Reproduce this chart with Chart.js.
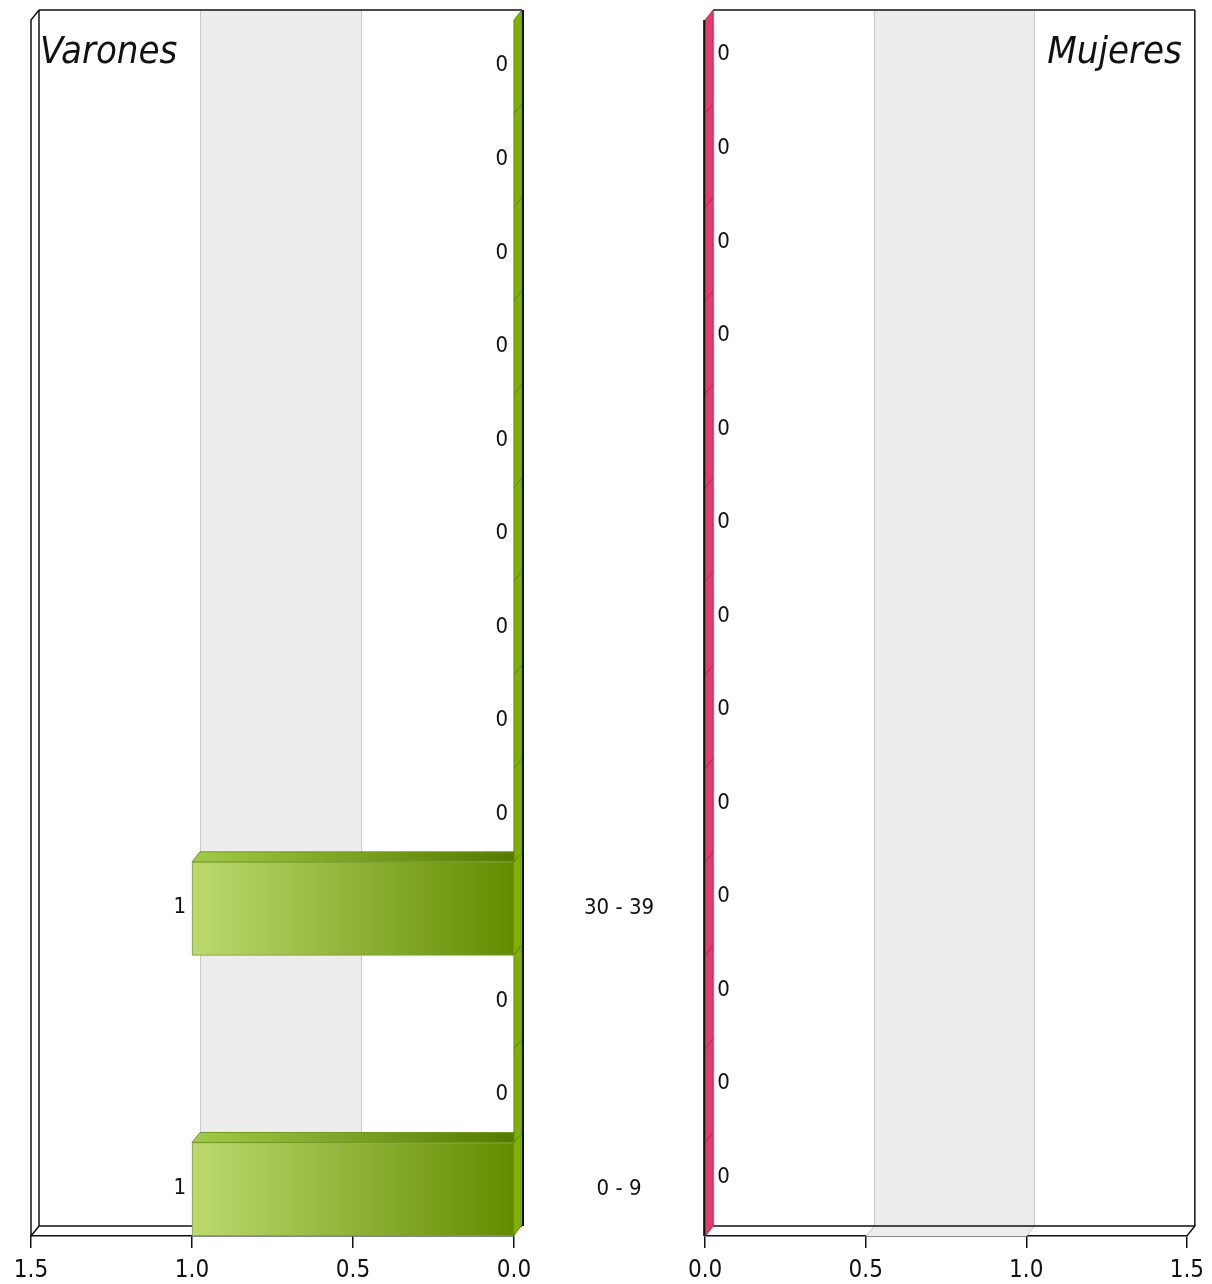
<!DOCTYPE html>
<html>
<head>
<meta charset="utf-8">
<script src="https://cdn.jsdelivr.net/npm/chart.js@4.4.1/dist/chart.umd.min.js"></script>
<style>
  html, body { margin: 0; padding: 0; background: #fff; }
  #wrap { position: relative; width: 1212px; height: 1284px; overflow: hidden; }
  canvas { position: absolute; top: 0; }
  #left { left: 0; }
  #right { left: 680px; }
</style>
</head>
<body>
<div id="wrap">
  <canvas id="left" width="726" height="1284"></canvas>
  <canvas id="right" width="532" height="1284"></canvas>
</div>
<script>
// Age groups, bottom to top
var categories = ["0 - 9", "", "", "30 - 39", "", "", "", "", "", "", "", "", ""];
var varones = [1, 0, 0, 1, 0, 0, 0, 0, 0, 0, 0, 0, 0];
var mujeres = [0, 0, 0, 0, 0, 0, 0, 0, 0, 0, 0, 0, 0];
var axisMax = 1.5;
var axisStep = 0.5;

var FONT = '"DejaVu Sans Condensed", "DejaVu Sans", sans-serif';
var DX = 8, DY = 10;

function line(ctx, pts) {
    ctx.beginPath();
    ctx.moveTo(pts[0][0], pts[0][1]);
    for (var i = 1; i < pts.length; i++) ctx.lineTo(pts[i][0], pts[i][1]);
    ctx.stroke();
}

function poly(ctx, pts) {
    ctx.beginPath();
    ctx.moveTo(pts[0][0], pts[0][1]);
    for (var i = 1; i < pts.length; i++) ctx.lineTo(pts[i][0], pts[i][1]);
    ctx.closePath();
}

// 3D box, faces and value labels
function box3d(side, title, colors) {
    return {
        id: 'box3d',
        beforeDatasetsDraw: function(chart) {
            var ctx = chart.ctx, a = chart.chartArea, x = chart.scales.x;
            var l = a.left, r = a.right, t = a.top, b = a.bottom;
            ctx.save();
            // shaded band 0.5 - 1.0
            var p1 = x.getPixelForValue(0.5), p2 = x.getPixelForValue(1.0);
            var xa = Math.min(p1, p2), xb = Math.max(p1, p2);
            ctx.fillStyle = '#ededed';
            ctx.fillRect(xa + DX, t - DY, xb - xa, b - t);
            poly(ctx, [[xa, b], [xb, b], [xb + DX, b - DY], [xa + DX, b - DY]]);
            ctx.fill();
            // grid lines on back wall and floor
            ctx.strokeStyle = '#c8c8c8';
            ctx.lineWidth = 1;
            x.ticks.forEach(function(tk) {
                if (tk.value <= 0 || tk.value >= axisMax) return;
                var px = Math.round(x.getPixelForValue(tk.value)) + 0.5;
                line(ctx, [[px + DX, t - DY], [px + DX, b - DY], [px, b]]);
            });
            // frame
            ctx.strokeStyle = '#111';
            ctx.lineWidth = 1.5;
            line(ctx, [[l + DX, t - DY], [r + DX, t - DY]]);
            line(ctx, [[l + DX, b - DY], [r + DX, b - DY]]);
            if (side === 'left') {
                line(ctx, [[l + DX, t - DY], [l + DX, b - DY]]);
                line(ctx, [[l + DX, t - DY], [l, t], [l, b], [l + DX, b - DY]]);
            } else {
                line(ctx, [[r + DX, t - DY], [r + DX, b - DY], [r, b]]);
            }
            ctx.restore();
        },
        afterDatasetsDraw: function(chart) {
            var ctx = chart.ctx, a = chart.chartArea;
            var meta = chart.getDatasetMeta(0);
            var data = chart.data.datasets[0].data;
            ctx.save();
            meta.data.forEach(function(el) {
                var p = el.getProps(['x', 'y', 'base', 'height'], true);
                var lo = Math.min(p.x, p.base), hi = Math.max(p.x, p.base);
                var top = p.y - p.height / 2, bot = p.y + p.height / 2;
                if (hi - lo > 0.5) {
                    var g = ctx.createLinearGradient(p.x, 0, p.base, 0);
                    g.addColorStop(0, colors.topLight);
                    g.addColorStop(1, colors.topDark);
                    ctx.fillStyle = g;
                    poly(ctx, [[lo, top], [hi, top], [hi + DX, top - DY], [lo + DX, top - DY]]);
                    ctx.fill();
                    ctx.strokeStyle = colors.edge;
                    ctx.lineWidth = 1;
                    ctx.stroke();
                }
                ctx.fillStyle = colors.side;
                poly(ctx, [[hi, top], [hi + DX, top - DY], [hi + DX, bot - DY], [hi, bot]]);
                ctx.fill();
                ctx.strokeStyle = colors.sideEdge;
                ctx.lineWidth = 1;
                ctx.stroke();
            });
            // edge line of the zero wall
            ctx.strokeStyle = '#111';
            ctx.lineWidth = 2;
            if (side === 'left') {
                line(ctx, [[a.right + DX + 1, a.top - DY], [a.right + DX + 1, a.bottom - DY]]);
            } else {
                line(ctx, [[a.left - 1, a.top], [a.left - 1, a.bottom]]);
            }
            // value labels
            ctx.fillStyle = '#111';
            ctx.font = '22px ' + FONT;
            ctx.textBaseline = 'middle';
            meta.data.forEach(function(el, i) {
                var p = el.getProps(['x', 'y', 'base'], true);
                if (side === 'left') {
                    ctx.textAlign = 'right';
                    ctx.fillText(String(data[i]), Math.min(p.x, p.base) - 6, p.y - 1);
                } else {
                    ctx.textAlign = 'left';
                    ctx.fillText(String(data[i]), Math.max(p.x, p.base) + DX + 4, p.y - 12);
                }
            });
            ctx.restore();
        },
        afterDraw: function(chart) {
            var ctx = chart.ctx, a = chart.chartArea;
            ctx.save();
            ctx.fillStyle = '#111';
            ctx.font = 'italic 38px ' + FONT;
            ctx.textBaseline = 'alphabetic';
            if (side === 'left') {
                ctx.textAlign = 'left';
                ctx.fillText(title, a.left + DX + 1, 63);
            } else {
                ctx.textAlign = 'right';
                ctx.fillText(title, a.right + DX - 13, 63);
            }
            ctx.restore();
        }
    };
}

function frontFill(light, dark) {
    return function(c) {
        var chart = c.chart;
        if (!chart.chartArea || !c.raw) return dark;
        var x = chart.scales.x;
        var g = chart.ctx.createLinearGradient(x.getPixelForValue(c.raw), 0, x.getPixelForValue(0), 0);
        g.addColorStop(0, light);
        g.addColorStop(1, dark);
        return g;
    };
}

function xAxis(reverse) {
    return {
        type: 'linear',
        min: 0,
        max: axisMax,
        reverse: reverse,
        ticks: {
            stepSize: axisStep,
            color: '#111',
            padding: 8,
            font: { family: FONT, size: 24 },
            callback: function(v) { return Number(v).toFixed(1); }
        },
        grid: { drawOnChartArea: false, drawTicks: true, tickLength: 12, color: '#111', lineWidth: 1.5 },
        border: { display: true, color: '#111', width: 1.5 },
        afterFit: function(s) { s.height = 48; }
    };
}

var greenColors = { topLight: '#a3c94a', topDark: '#557a00', side: '#80b000', sideEdge: '#5d8a00', edge: '#6f9a22' };
var pinkColors = { topLight: '#f27a9a', topDark: '#b81e4c', side: '#e8396b', sideEdge: '#b8234f', edge: '#b8234f' };

// Left chart: Varones
var leftChart = new Chart(document.getElementById('left'), {
    type: 'bar',
    data: {
        labels: categories,
        datasets: [{
            label: 'Varones',
            data: varones,
            backgroundColor: frontFill('#bcd96e', '#648c00'),
            borderColor: '#7da03a',
            borderWidth: 1,
            barPercentage: 1,
            categoryPercentage: 1
        }]
    },
    options: {
        indexAxis: 'y',
        responsive: false,
        animation: false,
        layout: { padding: { left: 31, top: 20, right: 0, bottom: 0 } },
        plugins: { legend: { display: false }, tooltip: { enabled: false } },
        scales: {
            x: xAxis(true),
            y: {
                position: 'right',
                reverse: true,
                grid: { display: false },
                border: { display: false },
                ticks: {
                    color: '#111',
                    crossAlign: 'center',
                    padding: 62,
                    autoSkip: false,
                    font: { family: FONT, size: 22 }
                },
                afterFit: function(s) {
                    s.width = 212;
                    s.paddingTop = 0;
                    s.paddingBottom = 0;
                }
            }
        }
    },
    plugins: [box3d('left', 'Varones', greenColors)]
});

// Right chart: Mujeres
var rightChart = new Chart(document.getElementById('right'), {
    type: 'bar',
    data: {
        labels: categories,
        datasets: [{
            label: 'Mujeres',
            data: mujeres,
            backgroundColor: frontFill('#f27a9a', '#c8285a'),
            borderColor: '#b8234f',
            borderWidth: 1,
            barPercentage: 1,
            categoryPercentage: 1
        }]
    },
    options: {
        indexAxis: 'y',
        responsive: false,
        animation: false,
        layout: { padding: { left: 25, top: 20, right: 24, bottom: 0 } },
        plugins: { legend: { display: false }, tooltip: { enabled: false } },
        scales: {
            x: xAxis(false),
            y: { display: false, reverse: true }
        }
    },
    plugins: [box3d('right', 'Mujeres', pinkColors)]
});
</script>
</body>
</html>
